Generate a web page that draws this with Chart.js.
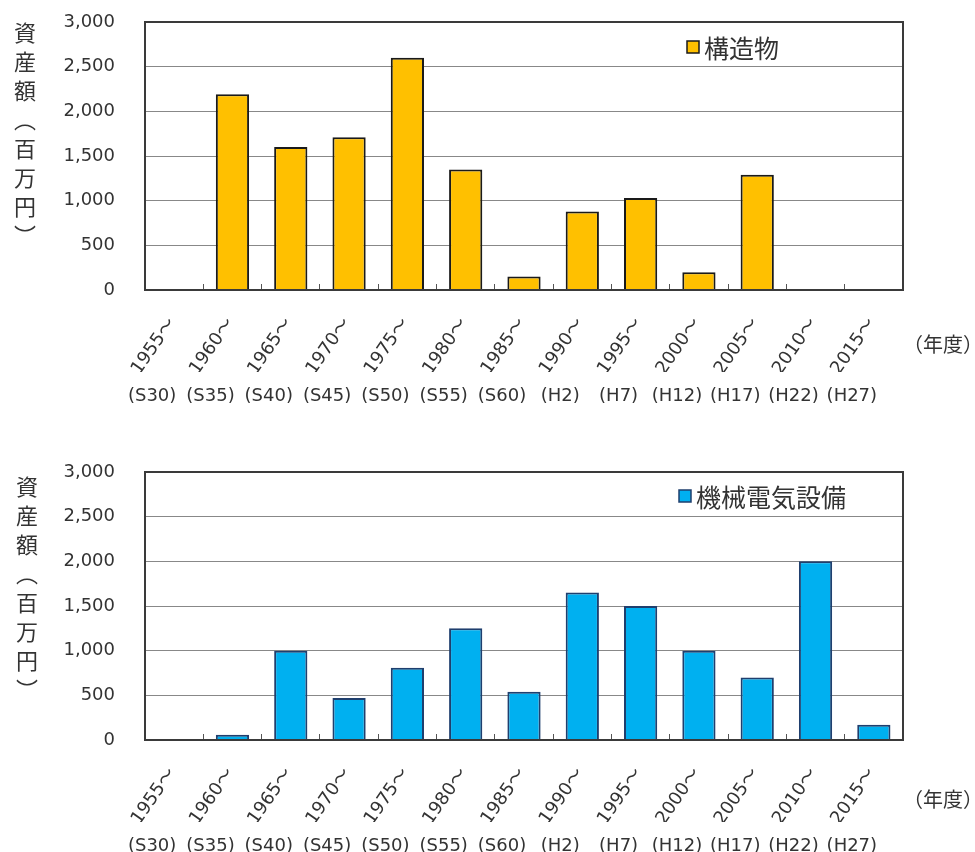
<!DOCTYPE html>
<html>
<head>
<meta charset="utf-8">
<script src="https://cdn.jsdelivr.net/npm/chart.js@4.4.1/dist/chart.umd.min.js"></script>
<style>
  html, body { margin: 0; padding: 0; background: #fff; overflow: hidden; }
  .box { position: absolute; left: 0; width: 975px; height: 426px; }
</style>
</head>
<body>
<div class="box" style="top:0"><canvas id="kozo" width="975" height="426"></canvas></div>
<div class="box" style="top:450px"><canvas id="kikai" width="975" height="426"></canvas></div>
<script>
// 年度区分
const years = ['1955～', '1960～', '1965～', '1970～', '1975～', '1980～', '1985～',
               '1990～', '1995～', '2000～', '2005～', '2010～', '2015～'];
const eras = ['(S30)', '(S35)', '(S40)', '(S45)', '(S50)', '(S55)', '(S60)',
              '(H2)', '(H7)', '(H12)', '(H17)', '(H22)', '(H27)'];

// 資産額（百万円）
const kozoValues  = [0, 2190, 1600, 1710, 2600, 1350, 150, 880, 1030, 200, 1290, 0, 0];
const kikaiValues = [0, 60, 1000, 470, 810, 1250, 540, 1650, 1500, 1000, 700, 2000, 170];

const yMin = 0, yMax = 3000, yStep = 500;
const yTitle = ['資', '産', '額', '︵', '百', '万', '円', '︶'];
const unitLabel = '（年度）';

const latin = "'DejaVu Sans', 'Noto Sans CJK JP', sans-serif";
const cjk = "'Noto Sans CJK JP', sans-serif";

// frame, legend, vertical y title and unit label
const decor = {
  id: 'decor',
  afterDraw(chart, args, opts) {
    const ctx = chart.ctx;
    const a = chart.chartArea;
    const ds = chart.data.datasets[0];
    ctx.save();

    ctx.strokeStyle = '#3a3a3a';
    ctx.lineWidth = 2;
    ctx.strokeRect(a.left, a.top, a.right - a.left, a.bottom - a.top);

    // legend
    ctx.fillStyle = ds.backgroundColor;
    ctx.fillRect(opts.legendX, opts.legendY - 6, 12, 12);
    ctx.strokeStyle = ds.borderColor;
    ctx.lineWidth = 1.5;
    ctx.strokeRect(opts.legendX, opts.legendY - 6, 12, 12);
    ctx.fillStyle = '#333';
    ctx.font = '25px ' + cjk;
    ctx.textAlign = 'left';
    ctx.textBaseline = 'middle';
    ctx.fillText(ds.label, opts.legendX + 17, opts.legendY + 1);

    // y title, one character per line
    ctx.font = '22px ' + cjk;
    ctx.textAlign = 'center';
    yTitle.forEach((c, i) => ctx.fillText(c, opts.titleX, opts.titleY + i * 29));

    // (年度)
    ctx.font = '20px ' + cjk;
    ctx.fillText(unitLabel, 943, opts.unitY);
    ctx.restore();
  }
};

function makeChart(id, label, values, fill, border, opts) {
  return new Chart(document.getElementById(id), {
    type: 'bar',
    data: {
      labels: years,
      datasets: [{
        label: label,
        data: values,
        backgroundColor: fill,
        borderColor: border,
        borderWidth: 2,
        borderSkipped: 'bottom',
        categoryPercentage: 1,
        barPercentage: 0.57
      }]
    },
    options: {
      responsive: false,
      animation: false,
      locale: 'en-US',
      layout: { padding: { top: 22, right: 72, left: 0, bottom: 0 } },
      plugins: {
        legend: { display: false },
        tooltip: { enabled: false },
        decor: opts
      },
      scales: {
        x: {
          weight: 0,
          offset: true,
          grid: { offset: true, drawOnChartArea: false, tickLength: -6, color: '#555', lineWidth: 1 },
          border: { display: false },
          ticks: {
            autoSkip: false, minRotation: 55, maxRotation: 55,
            padding: 30, labelOffset: -2,
            color: '#333', font: { family: latin, size: 18 }
          },
          afterFit: s => { s.height = 82; s.paddingLeft = 0; s.paddingRight = 0; }
        },
        x2: {
          type: 'category',
          labels: eras,
          position: 'bottom',
          weight: 1,
          offset: true,
          grid: { display: false, drawTicks: false },
          border: { display: false },
          ticks: {
            autoSkip: false, minRotation: 0, maxRotation: 0,
            padding: 14, labelOffset: -22,
            color: '#333', font: { family: latin, size: 18 }
          },
          afterFit: s => { s.height = 54; s.paddingLeft = 0; s.paddingRight = 0; }
        },
        y: {
          min: yMin, max: yMax,
          grid: { color: '#888', lineWidth: 1, drawTicks: false },
          border: { display: false },
          ticks: {
            stepSize: yStep, padding: 30,
            color: '#333', font: { family: latin, size: 18 }
          },
          afterFit: s => { s.width = 145; s.paddingTop = 0; s.paddingBottom = 0; }
        }
      }
    },
    plugins: [decor]
  });
}

makeChart('kozo', '構造物', kozoValues, '#FFC000', '#1a1a1a',
  { legendX: 687, legendY: 47, titleX: 25, titleY: 33, unitY: 344 });
makeChart('kikai', '機械電気設備', kikaiValues, '#00B0F0', '#1F3F6E',
  { legendX: 679, legendY: 46, titleX: 27, titleY: 37, unitY: 349 });
</script>
</body>
</html>
